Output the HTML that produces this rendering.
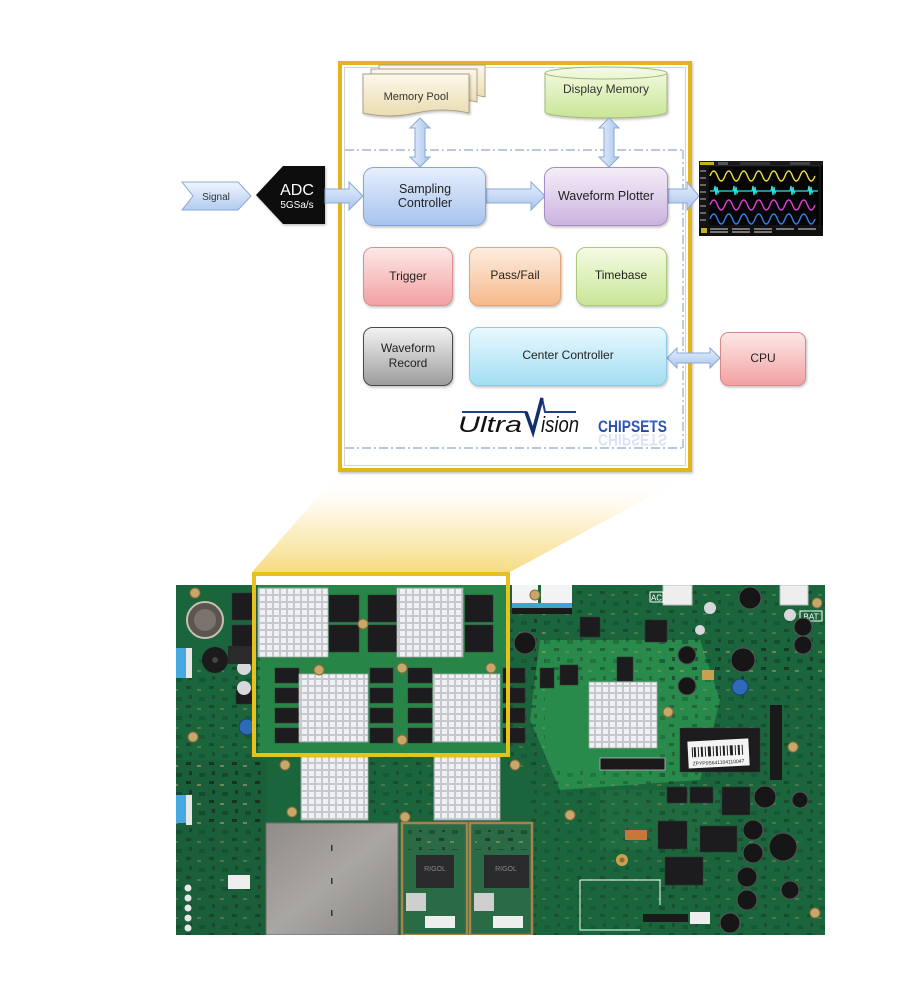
<!DOCTYPE html>
<html><head><meta charset="utf-8"><style>
html,body{margin:0;padding:0;background:#fff;}
body{width:900px;height:1000px;overflow:hidden;position:relative;}
svg{position:absolute;left:0;top:0;}
text{font-family:"Liberation Sans",sans-serif;}
</style></head><body>
<svg width="900" height="1000" viewBox="0 0 900 1000" xmlns="http://www.w3.org/2000/svg">
<defs>
<linearGradient id="gBlue" x1="0" y1="0" x2="0" y2="1"><stop offset="0" stop-color="#e6effc"/><stop offset="1" stop-color="#a6c3ee"/></linearGradient>
<linearGradient id="gPurple" x1="0" y1="0" x2="0" y2="1"><stop offset="0" stop-color="#f5eef9"/><stop offset="1" stop-color="#cab3df"/></linearGradient>
<linearGradient id="gRed" x1="0" y1="0" x2="0" y2="1"><stop offset="0" stop-color="#fde8e8"/><stop offset="1" stop-color="#f2a0a0"/></linearGradient>
<linearGradient id="gOrange" x1="0" y1="0" x2="0" y2="1"><stop offset="0" stop-color="#fdede0"/><stop offset="1" stop-color="#f6b98a"/></linearGradient>
<linearGradient id="gGreen" x1="0" y1="0" x2="0" y2="1"><stop offset="0" stop-color="#f5fbe4"/><stop offset="1" stop-color="#c8e596"/></linearGradient>
<linearGradient id="gGray" x1="0" y1="0" x2="0" y2="1"><stop offset="0" stop-color="#f3f3f3"/><stop offset="1" stop-color="#9c9c9c"/></linearGradient>
<linearGradient id="gCyan" x1="0" y1="0" x2="0" y2="1"><stop offset="0" stop-color="#e8f9fe"/><stop offset="1" stop-color="#a2ddf3"/></linearGradient>
<linearGradient id="gArrH" x1="0" y1="0" x2="0" y2="1"><stop offset="0" stop-color="#e6effc"/><stop offset="1" stop-color="#a9c5ee"/></linearGradient>
<linearGradient id="gArrV" x1="0" y1="0" x2="1" y2="0"><stop offset="0" stop-color="#e6effc"/><stop offset="1" stop-color="#a9c5ee"/></linearGradient>
<linearGradient id="gDoc" x1="0" y1="0" x2="0" y2="1"><stop offset="0" stop-color="#fcf8ea"/><stop offset="1" stop-color="#eadcb0"/></linearGradient>
<linearGradient id="gSig" x1="0" y1="0" x2="0" y2="1"><stop offset="0" stop-color="#f0f5fd"/><stop offset="1" stop-color="#b2ccf1"/></linearGradient>
<linearGradient id="gFunnel" x1="0" y1="0" x2="0" y2="1"><stop offset="0" stop-color="#ffffff" stop-opacity="0"/><stop offset="0.5" stop-color="#fcefc6" stop-opacity="0.8"/><stop offset="1" stop-color="#f6da7c" stop-opacity="0.95"/></linearGradient>
<linearGradient id="gChip" x1="0" y1="0" x2="0" y2="1"><stop offset="0" stop-color="#3a6ad0"/><stop offset="1" stop-color="#1d3c8c"/></linearGradient>
<linearGradient id="gShield" x1="0" y1="0" x2="1" y2="1"><stop offset="0" stop-color="#8f8c89"/><stop offset="0.5" stop-color="#a9a6a3"/><stop offset="1" stop-color="#8a8784"/></linearGradient>
<pattern id="fin" width="7" height="7" patternUnits="userSpaceOnUse">
<rect width="7" height="7" fill="#c6c8cd"/><rect x="1" y="1" width="5" height="5" fill="#f0f1f3"/>
</pattern>
<pattern id="smd" width="23" height="19" patternUnits="userSpaceOnUse">
<rect x="2" y="2" width="5" height="3" fill="#111"/><rect x="13" y="5" width="4" height="2" fill="#b9a06a"/><rect x="5" y="11" width="3" height="4" fill="#1a1a1a"/><rect x="15" y="13" width="6" height="4" fill="#0c3a20"/>
</pattern>
<filter id="sh" x="-10%" y="-10%" width="130%" height="130%"><feDropShadow dx="1" dy="1.5" stdDeviation="1.2" flood-color="#000" flood-opacity="0.25"/></filter>
<clipPath id="pcbClip"><rect x="176" y="585" width="649" height="350"/></clipPath>
<clipPath id="scrClip"><rect x="699" y="161" width="124" height="75"/></clipPath>
</defs>

<!-- Funnel -->
<polygon points="338,474 692,474 510,572 252,572" fill="url(#gFunnel)"/>

<!-- Main yellow box -->
<rect x="340" y="63" width="350" height="407" fill="#fff" stroke="#e3b51e" stroke-width="4" filter="url(#sh)"/>
<rect x="344.5" y="67.5" width="341" height="398" fill="none" stroke="#d4d4d4" stroke-width="1"/>

<!-- dash-dot region -->
<g stroke="#8eabc9" stroke-width="1.2" fill="none" stroke-dasharray="9,3,2,3">
<line x1="345" y1="150" x2="683" y2="150"/>
<line x1="683" y1="150" x2="683" y2="448"/>
<line x1="345" y1="448" x2="683" y2="448"/>
</g>

<!-- Memory Pool docs -->
<g stroke="#a8a08a" stroke-width="1" fill="url(#gDoc)">
<path d="M379,65 H485 V97 Q458.5,91 432,97 T379,97 Z"/>
<path d="M371,69 H477 V102 Q450.5,96 424,102 T371,102 Z"/>
<path d="M363,74 H469 V113 Q442.5,107 416,113 T363,113 Z" filter="url(#sh)"/>
</g>
<text x="416" y="100" font-size="11" text-anchor="middle" fill="#333">Memory Pool</text>

<!-- Display Memory cylinder -->
<g filter="url(#sh)">
<path d="M545,73 A61,6 0 0 1 667,73 V112 A61,6 0 0 1 545,112 Z" fill="url(#gGreen)" stroke="#a2b87a" stroke-width="1"/>
<path d="M545,73 A61,6 0 0 0 667,73" fill="none" stroke="#a2b87a" stroke-width="1"/>
</g>
<text x="606" y="93" font-size="12" text-anchor="middle" fill="#333">Display Memory</text>

<!-- vertical double arrows -->
<g fill="url(#gArrV)" stroke="#8aa8d4" stroke-width="1">
<path d="M420,118 L430,128 H425 V157 H430 L420,167 L410,157 H415 V128 H410 Z"/>
<path d="M609,118 L619,128 H614 V157 H619 L609,167 L599,157 H604 V128 H599 Z"/>
</g>

<!-- Signal -->
<path d="M182,182 H238 L251,196 L238,210 H182 L193,196 Z" fill="url(#gSig)" stroke="#8aa8d4" stroke-width="1"/>
<text x="216" y="200" font-size="10" text-anchor="middle" fill="#333">Signal</text>

<!-- ADC -->
<path d="M283,166 H325 V224 H283 L256,195 Z" fill="#0a0a0a" filter="url(#sh)"/>
<text x="297" y="195" font-size="16" text-anchor="middle" fill="#fff">ADC</text>
<text x="297" y="208" font-size="10" text-anchor="middle" fill="#fff">5GSa/s</text>

<!-- right arrows -->
<g fill="url(#gArrH)" stroke="#8aa8d4" stroke-width="1">
<path d="M325,189 H349 V182 L363,196 L349,210 V203 H325 Z"/>
<path d="M486,189 H531 V182 L545,196 L531,210 V203 H486 Z"/>
<path d="M668,189 H687 V182 L699,196 L687,210 V203 H668 Z"/>
<path d="M667,358 L677,348 V353 H710 V348 L720,358 L710,368 V363 H677 V368 Z"/>
</g>

<!-- Boxes -->
<g filter="url(#sh)">
<rect x="363.5" y="167.5" width="122" height="58" rx="10" fill="url(#gBlue)" stroke="#86a6d6"/>
<rect x="544.5" y="167.5" width="123" height="58" rx="10" fill="url(#gPurple)" stroke="#a48ebf"/>
<rect x="363.5" y="247.5" width="89" height="58" rx="9" fill="url(#gRed)" stroke="#d99090"/>
<rect x="469.5" y="247.5" width="91" height="58" rx="9" fill="url(#gOrange)" stroke="#e2a678"/>
<rect x="576.5" y="247.5" width="90" height="58" rx="9" fill="url(#gGreen)" stroke="#abc87c"/>
<rect x="363.5" y="327.5" width="89" height="58" rx="9" fill="url(#gGray)" stroke="#4a4a4a"/>
<rect x="469.5" y="327.5" width="197" height="58" rx="9" fill="url(#gCyan)" stroke="#8ccbe0"/>
<rect x="720.5" y="332.5" width="85" height="53" rx="8" fill="url(#gRed)" stroke="#d48a8a"/>
</g>
<g font-size="12.5" text-anchor="middle" fill="#222">
<text x="425" y="193">Sampling</text>
<text x="425" y="207">Controller</text>
<text x="606" y="200">Waveform Plotter</text>
<text x="408" y="280" font-size="12">Trigger</text>
<text x="515" y="279" font-size="12">Pass/Fail</text>
<text x="621" y="279" font-size="12">Timebase</text>
<text x="408" y="352" font-size="12">Waveform</text>
<text x="408" y="367" font-size="12">Record</text>
<text x="568" y="359" font-size="12">Center Controller</text>
<text x="763" y="362" font-size="12">CPU</text>
</g>

<!-- Logo -->
<path d="M462,412 H526 L533,432 L542,398 L545,412 H576" fill="none" stroke="#1e3f8c" stroke-width="2"/>
<path d="M526,412 L533,432 L542,398" fill="none" stroke="#12306e" stroke-width="3.5"/>
<text x="458" y="432" font-size="22" font-style="italic" fill="#111" textLength="64" lengthAdjust="spacingAndGlyphs">Ultra</text>
<text x="541" y="432" font-size="22" font-style="italic" fill="#111" textLength="38" lengthAdjust="spacingAndGlyphs">ision</text>
<text x="598" y="432" font-size="17" font-weight="bold" fill="url(#gChip)" textLength="69" lengthAdjust="spacingAndGlyphs">CHIPSETS</text>
<text x="598" y="-434" font-size="17" font-weight="bold" fill="#3a6ad0" opacity="0.18" transform="scale(1,-1)" textLength="69" lengthAdjust="spacingAndGlyphs">CHIPSETS</text>

<!-- Oscilloscope screen -->
<rect x="699" y="161" width="124" height="75" fill="#050505"/>
<g clip-path="url(#scrClip)">
<rect x="699" y="161" width="124" height="5" fill="#1a1a1a"/>
<rect x="700" y="162" width="14" height="3" fill="#c8b020"/>
<rect x="718" y="162" width="10" height="3" fill="#555"/>
<rect x="740" y="162" width="30" height="3" fill="#333"/>
<rect x="790" y="162" width="20" height="3" fill="#444"/>
<rect x="699" y="166" width="8" height="60" fill="#151515"/>
<g fill="#666"><rect x="700" y="170" width="6" height="2"/><rect x="700" y="177" width="6" height="2"/><rect x="700" y="184" width="6" height="2"/><rect x="700" y="191" width="6" height="2"/><rect x="700" y="198" width="6" height="2"/><rect x="700" y="205" width="6" height="2"/><rect x="700" y="212" width="6" height="2"/><rect x="700" y="219" width="6" height="2"/></g>
<rect x="708" y="166" width="112" height="60" fill="none" stroke="#333" stroke-width="0.6"/>
<path d="M710,176 q3.75,-10 7.5,0 t7.5,0 t7.5,0 t7.5,0 t7.5,0 t7.5,0 t7.5,0 t7.5,0 t7.5,0 t7.5,0 t7.5,0 t7.5,0 t7.5,0 t7.5,0" fill="none" stroke="#f0e040" stroke-width="1.4"/>
<path d="M710,191 H714 l1,-5 l1,9 l1,-8 l1,6 l1,-2 H733 l1,-5 l1,9 l1,-8 l1,6 l1,-2 H752 l1,-5 l1,9 l1,-8 l1,6 l1,-2 H771 l1,-5 l1,9 l1,-8 l1,6 l1,-2 H790 l1,-5 l1,9 l1,-8 l1,6 l1,-2 H808 l1,-5 l1,9 l1,-8 l1,6 l1,-2 H818" fill="none" stroke="#30e0e0" stroke-width="1.3"/>
<path d="M710,205 q3.75,-10 7.5,0 t7.5,0 t7.5,0 t7.5,0 t7.5,0 t7.5,0 t7.5,0 t7.5,0 t7.5,0 t7.5,0 t7.5,0 t7.5,0 t7.5,0 t7.5,0" fill="none" stroke="#e040d8" stroke-width="1.4"/>
<path d="M710,219 q3.75,-10 7.5,0 t7.5,0 t7.5,0 t7.5,0 t7.5,0 t7.5,0 t7.5,0 t7.5,0 t7.5,0 t7.5,0 t7.5,0 t7.5,0 t7.5,0 t7.5,0" fill="none" stroke="#3a80f0" stroke-width="1.4"/>
<rect x="699" y="226" width="124" height="10" fill="#101010"/>
<g fill="#777"><rect x="710" y="228" width="18" height="2"/><rect x="710" y="231" width="18" height="2"/><rect x="732" y="228" width="18" height="2"/><rect x="732" y="231" width="18" height="2"/><rect x="754" y="228" width="18" height="2"/><rect x="754" y="231" width="18" height="2"/><rect x="776" y="228" width="18" height="2"/><rect x="798" y="228" width="18" height="2"/></g>
<rect x="701" y="228" width="6" height="5" fill="#c8b020"/>
</g>

<!-- PCB -->
<g clip-path="url(#pcbClip)">
<rect x="176" y="585" width="649" height="350" fill="#1b653c"/>
<!-- lighter areas -->
<rect x="258" y="585" width="250" height="168" fill="#278548"/>
<polygon points="540,640 700,640 720,700 700,780 560,790 530,720" fill="#288a4b"/>
<rect x="600" y="790" width="120" height="60" fill="#206b40"/>
<rect x="176" y="760" width="90" height="175" fill="#1a5f39"/>
<!-- component texture -->
<rect x="176" y="655" width="84" height="170" fill="url(#smd)" opacity="0.35"/>
<rect x="176" y="760" width="90" height="175" fill="url(#smd)" opacity="0.35"/>
<rect x="530" y="590" width="295" height="90" fill="url(#smd)" opacity="0.3"/>
<rect x="660" y="640" width="165" height="295" fill="url(#smd)" opacity="0.3"/>
<rect x="530" y="770" width="140" height="165" fill="url(#smd)" opacity="0.25"/>
<rect x="505" y="600" width="40" height="170" fill="url(#smd)" opacity="0.3"/>
<rect x="368" y="757" width="66" height="60" fill="url(#smd)" opacity="0.3"/>

<!-- white cables top -->
<rect x="512" y="585" width="26" height="18" fill="#f2f4f4"/>
<rect x="541" y="585" width="31" height="18" fill="#f2f4f4"/>
<rect x="512" y="603" width="60" height="5" fill="#3aa6d8"/>
<rect x="512" y="608" width="60" height="6" fill="#1a1a1a"/>

<!-- memory chips -->
<g fill="#1c1c1e" stroke="#333" stroke-width="0.5">
<rect x="232" y="593" width="24" height="27"/><rect x="232" y="625" width="24" height="26"/>
<rect x="329" y="595" width="30" height="27"/><rect x="329" y="625" width="30" height="27"/>
<rect x="368" y="595" width="29" height="27"/><rect x="368" y="625" width="29" height="27"/>
<rect x="465" y="595" width="28" height="27"/><rect x="465" y="625" width="28" height="27"/>
<rect x="275" y="668" width="24" height="15"/><rect x="275" y="688" width="24" height="15"/><rect x="275" y="708" width="24" height="15"/><rect x="275" y="728" width="24" height="15"/>
<rect x="370" y="668" width="23" height="15"/><rect x="370" y="688" width="23" height="15"/><rect x="370" y="708" width="23" height="15"/><rect x="370" y="728" width="23" height="15"/>
<rect x="408" y="668" width="24" height="15"/><rect x="408" y="688" width="24" height="15"/><rect x="408" y="708" width="24" height="15"/><rect x="408" y="728" width="24" height="15"/>
<rect x="503" y="668" width="22" height="15"/><rect x="503" y="688" width="22" height="15"/><rect x="503" y="708" width="22" height="15"/><rect x="503" y="728" width="22" height="15"/>
<rect x="680" y="728" width="80" height="44"/>
<rect x="722" y="787" width="28" height="28"/>
<rect x="658" y="821" width="29" height="28"/>
<rect x="700" y="826" width="37" height="26"/>
<rect x="665" y="857" width="38" height="28"/>
<rect x="667" y="787" width="20" height="16"/><rect x="690" y="787" width="23" height="16"/>
<rect x="617" y="657" width="16" height="24"/>
<rect x="560" y="665" width="18" height="20"/>
<rect x="580" y="617" width="20" height="20"/>
<rect x="645" y="620" width="22" height="22"/>
<rect x="540" y="668" width="14" height="20"/>
<rect x="236" y="690" width="16" height="14"/>
</g>
<!-- heatsinks -->
<g fill="url(#fin)" stroke="#a4a8ae" stroke-width="0.8">
<rect x="258" y="588" width="70" height="69"/>
<rect x="397" y="588" width="66" height="69"/>
<rect x="299" y="674" width="69" height="68"/>
<rect x="433" y="674" width="67" height="68"/>
<rect x="301" y="757" width="67" height="63"/>
<rect x="434" y="757" width="66" height="63"/>
<rect x="589" y="682" width="68" height="66"/>
</g>
<!-- shield and daughter boards -->
<rect x="266" y="823" width="132" height="112" fill="url(#gShield)" stroke="#6e6a66" stroke-width="1"/>
<g fill="#333"><rect x="331" y="845" width="1.5" height="6"/><rect x="331" y="878" width="1.5" height="6"/><rect x="331" y="910" width="1.5" height="6"/></g>
<rect x="402" y="823" width="65" height="112" fill="#2a6a45" stroke="#a8844c" stroke-width="2.5"/>
<rect x="470" y="823" width="62" height="112" fill="#2a6a45" stroke="#a8844c" stroke-width="2.5"/>
<rect x="408" y="830" width="54" height="20" fill="url(#smd)" opacity="0.5"/>
<rect x="475" y="830" width="54" height="20" fill="url(#smd)" opacity="0.5"/>
<rect x="416" y="855" width="38" height="33" fill="#2a2a2c"/>
<rect x="484" y="855" width="45" height="33" fill="#2a2a2c"/>
<text x="435" y="871" font-size="7" text-anchor="middle" fill="#888">RIGOL</text>
<text x="506" y="871" font-size="7" text-anchor="middle" fill="#888">RIGOL</text>
<rect x="406" y="893" width="20" height="18" fill="#cfcfcf"/>
<rect x="474" y="893" width="20" height="18" fill="#cfcfcf"/>
<rect x="425" y="916" width="30" height="12" fill="#eee"/>
<rect x="493" y="916" width="30" height="12" fill="#eee"/>

<!-- left column items -->
<circle cx="205" cy="620" r="18" fill="#5a5550" stroke="#c8c0b0" stroke-width="2"/>
<circle cx="205" cy="620" r="11" fill="#7a746c"/>
<circle cx="215" cy="660" r="13" fill="#1b1b1b"/>
<circle cx="215" cy="660" r="3" fill="#444"/>
<rect x="176" y="648" width="10" height="30" fill="#48a8e0"/>
<rect x="186" y="648" width="6" height="30" fill="#e8e8e8"/>
<rect x="176" y="795" width="10" height="28" fill="#48a8e0"/>
<rect x="186" y="795" width="6" height="30" fill="#e8e8e8"/>
<circle cx="244" cy="668" r="7" fill="#d8d8dc"/><circle cx="244" cy="688" r="7" fill="#d8d8dc"/>
<circle cx="247" cy="727" r="8" fill="#2d6ab8" stroke="#1d3e70"/>
<rect x="228" y="646" width="24" height="18" fill="#2a2a2a"/>
<rect x="228" y="875" width="22" height="14" fill="#eee"/>
<g fill="#e8e8e8"><circle cx="188" cy="888" r="3.5"/><circle cx="188" cy="898" r="3.5"/><circle cx="188" cy="908" r="3.5"/><circle cx="188" cy="918" r="3.5"/><circle cx="188" cy="928" r="3.5"/></g>

<!-- right top connectors -->
<rect x="663" y="585" width="29" height="20" fill="#eeeeee" stroke="#bbb"/>
<rect x="780" y="585" width="28" height="20" fill="#eeeeee" stroke="#bbb"/>
<rect x="650" y="592" width="13" height="10" fill="none" stroke="#fff"/>
<text x="656.5" y="600.5" font-size="8" text-anchor="middle" fill="#fff">AC</text>
<rect x="800" y="611" width="22" height="10" fill="none" stroke="#fff"/>
<text x="811" y="619.5" font-size="8" text-anchor="middle" fill="#fff">BAT</text>
<rect x="770" y="705" width="12" height="75" fill="#1a1a1a"/>
<!-- inductors -->
<g fill="#161616" stroke="#555" stroke-width="1">
<circle cx="687" cy="655" r="9"/><circle cx="687" cy="686" r="9"/>
<circle cx="743" cy="660" r="12"/><circle cx="750" cy="598" r="11"/>
<circle cx="803" cy="627" r="9"/><circle cx="803" cy="645" r="9"/>
<circle cx="525" cy="643" r="11"/>
<circle cx="765" cy="797" r="11"/><circle cx="753" cy="830" r="10"/><circle cx="753" cy="853" r="10"/>
<circle cx="747" cy="877" r="10"/><circle cx="747" cy="900" r="10"/><circle cx="730" cy="923" r="10"/>
<circle cx="783" cy="847" r="14"/><circle cx="790" cy="890" r="9"/><circle cx="800" cy="800" r="8"/>
</g>
<circle cx="740" cy="687" r="8" fill="#2d6ab8" stroke="#1d3e70"/>
<circle cx="710" cy="608" r="6" fill="#d8d8dc"/><circle cx="790" cy="615" r="6" fill="#d8d8dc"/><circle cx="700" cy="630" r="5" fill="#d8d8dc"/>
<rect x="702" y="670" width="12" height="10" fill="#c8a050"/>
<!-- barcode label -->
<g transform="rotate(-3 718 753)">
<rect x="688" y="740" width="61" height="27" fill="#f4f4f4"/>
<g fill="#222"><rect x="692" y="746" width="1" height="10"/><rect x="694" y="746" width="2" height="10"/><rect x="698" y="746" width="1" height="10"/><rect x="701" y="746" width="2" height="10"/><rect x="705" y="746" width="1" height="10"/><rect x="708" y="746" width="3" height="10"/><rect x="713" y="746" width="1" height="10"/><rect x="716" y="746" width="2" height="10"/><rect x="720" y="746" width="1" height="10"/><rect x="723" y="746" width="2" height="10"/><rect x="727" y="746" width="1" height="10"/><rect x="730" y="746" width="3" height="10"/><rect x="735" y="746" width="1" height="10"/><rect x="738" y="746" width="2" height="10"/><rect x="742" y="746" width="1" height="10"/></g>
<text x="718" y="764" font-size="5" text-anchor="middle" fill="#222">ZPYP0S641104110047</text>
</g>
<!-- silkscreen traces -->
<path d="M580,880 H660 V905 M580,880 V930 H640" fill="none" stroke="#cfe6d6" stroke-width="1.2"/>
<rect x="643" y="914" width="45" height="8" fill="#1a1a1a"/>
<rect x="690" y="912" width="20" height="12" fill="#eee"/>
<rect x="600" y="758" width="65" height="12" fill="#1a1a1a" stroke="#bbb" stroke-width="0.8"/>
<rect x="625" y="830" width="22" height="10" fill="#c8763a"/>
<circle cx="622" cy="860" r="6" fill="#c8a050"/><circle cx="622" cy="860" r="2.5" fill="#8a6a30"/>
<!-- screws -->
<g fill="#c8a86a" stroke="#8a6a3a" stroke-width="1">
<circle cx="195" cy="593" r="5"/><circle cx="363" cy="624" r="5"/><circle cx="319" cy="670" r="5"/>
<circle cx="402" cy="668" r="5"/><circle cx="491" cy="668" r="5"/><circle cx="402" cy="740" r="5"/>
<circle cx="193" cy="737" r="5"/><circle cx="285" cy="765" r="5"/><circle cx="292" cy="812" r="5"/>
<circle cx="405" cy="817" r="5"/><circle cx="535" cy="595" r="5"/><circle cx="817" cy="603" r="5"/>
<circle cx="668" cy="712" r="5"/><circle cx="793" cy="747" r="5"/><circle cx="515" cy="765" r="5"/>
<circle cx="570" cy="815" r="5"/><circle cx="815" cy="913" r="5"/>
</g>
</g>

<!-- yellow rectangle on PCB -->
<rect x="254" y="574" width="254" height="181" fill="none" stroke="#e8c020" stroke-width="4"/>
</svg>
</body></html>
